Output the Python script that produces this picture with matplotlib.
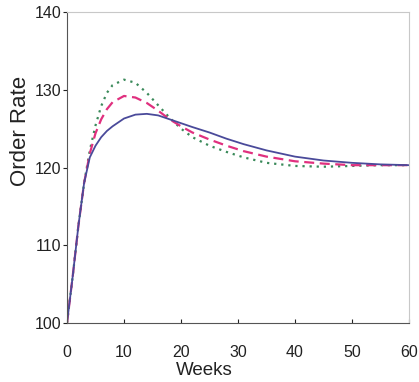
import matplotlib
matplotlib.use("Agg")
import matplotlib.pyplot as plt

weeks = [0, 1, 2, 3, 4, 5, 6, 7, 8, 10, 12, 14, 16, 18, 20, 22, 25, 28, 31, 35, 40, 45, 50, 55, 60]
solid_blue = [100, 106, 112.5, 118, 121.3, 122.8, 123.9, 124.7, 125.3, 126.3, 126.8, 126.9, 126.7,
              126.2, 125.7, 125.2, 124.5, 123.7, 123.0, 122.2, 121.4, 120.9, 120.6, 120.4, 120.3]
dashed_pink = [100, 106, 112.5, 118, 121.8, 124.4, 126.2, 127.5, 128.4, 129.2, 129.0, 128.3, 127.3,
               126.2, 125.3, 124.5, 123.6, 122.8, 122.1, 121.4, 120.8, 120.5, 120.3, 120.3, 120.3]
dotted_green = [100, 106, 112.5, 118, 122.2, 125.4, 127.9, 129.6, 130.6, 131.3, 130.9, 129.6, 128,
                126.4, 125, 123.9, 122.8, 122, 121.3, 120.6, 120.2, 120.1, 120.2, 120.3, 120.3]
xticks = [0, 10, 20, 30, 40, 50, 60]
yticks = [100, 110, 120, 130, 140]

plt.rcParams['font.family'] = ['Liberation Sans', 'DejaVu Sans']

fig = plt.figure(figsize=(4.19, 3.82), dpi=100)
ax = fig.add_axes([67/419, 59/382, 342/419, 311/382])

ax.plot(weeks, dotted_green, color='#3a8a5a', linestyle=(0, (1, 2.2)), linewidth=1.6)
ax.plot(weeks, dashed_pink, color='#e0307f', linestyle=(0, (4.5, 2.5)), linewidth=1.6)
ax.plot(weeks, solid_blue, color='#4a4a9a', linestyle='-', linewidth=1.3)

ax.set_xlim(0, 60)
ax.set_ylim(100, 140)
ax.set_xticks(xticks)
ax.set_yticks(yticks)
ax.tick_params(axis='x', direction='in', length=3, labelsize=11.5, pad=16, colors='#222222')
ax.tick_params(axis='y', direction='out', length=3, labelsize=11.5, pad=1, colors='#222222')
for s in ['top', 'right']:
    ax.spines[s].set_color('#c8c8c8')
for s in ['left', 'bottom']:
    ax.spines[s].set_color('#555555')
ax.set_xlabel('Weeks', fontsize=13.5, color='#222222')
ax.xaxis.set_label_coords(0.40, -0.127)
ax.set_ylabel('Order Rate', fontsize=16, color='#222222')
ax.yaxis.set_label_coords(-0.106, 0.617)

fig.savefig('out.png', dpi=100)
